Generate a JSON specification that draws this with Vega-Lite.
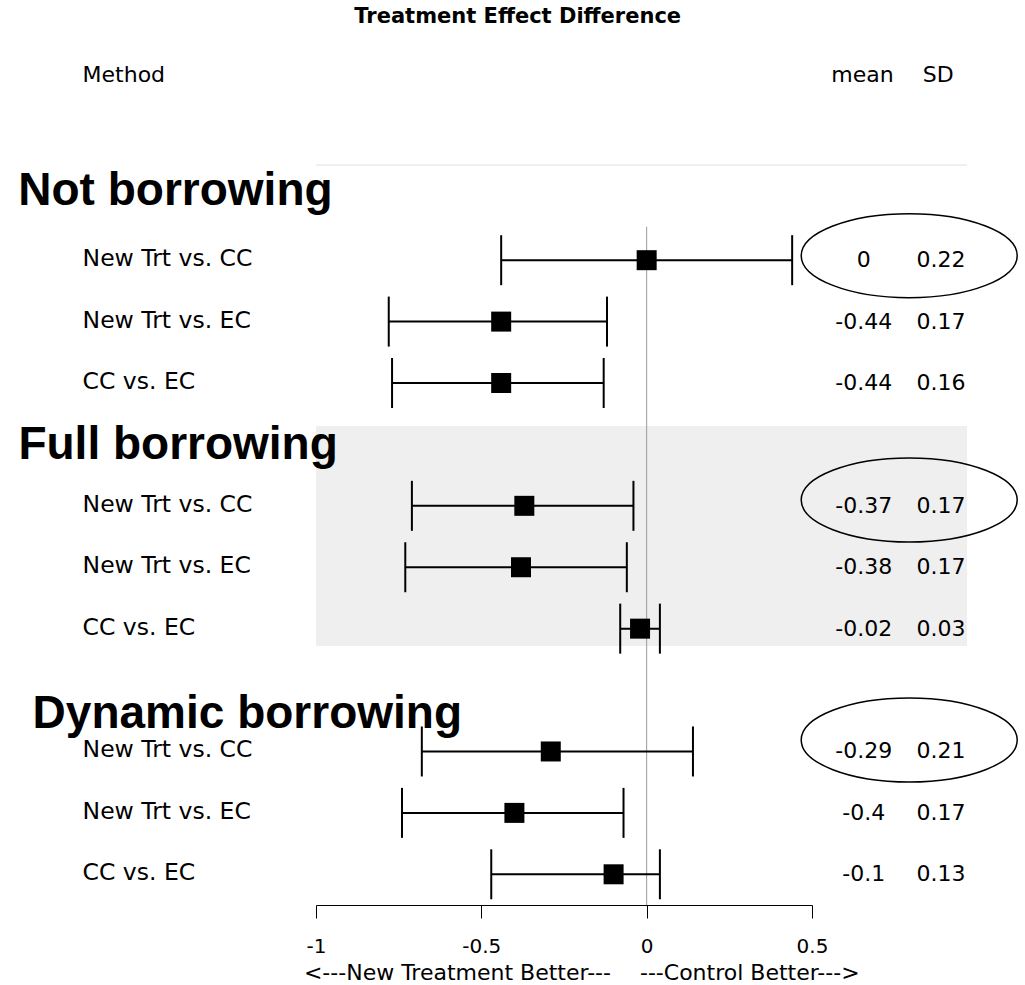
{
"$schema":"https://vega.github.io/schema/vega-lite/v6.json",
"width":496,"height":740,
"autosize":{"type":"none"},
"padding":{"left":316,"right":213,"top":165,"bottom":80},
"background":"white",
"config":{"view":{"stroke":null},"font":"DejaVu Sans","text":{"color":"#000"},
 "axisX":{"grid":false,"domainColor":"#000","domainWidth":1,"tickColor":"#000","tickWidth":1,"tickSize":13,"labelFont":"DejaVu Sans","labelFontSize":20,"labelColor":"#000","labelPadding":18,"labelFlush":false,"labelOverlap":false}},
"datasets":{"rows":[
{"r":0,"label":"New Trt vs. CC","mean":0,"sd":0.22,"lo":-0.44,"hi":0.44},
{"r":1,"label":"New Trt vs. EC","mean":-0.44,"sd":0.17,"lo":-0.78,"hi":-0.12},
{"r":2,"label":"CC vs. EC","mean":-0.44,"sd":0.16,"lo":-0.77,"hi":-0.13},
{"r":4,"label":"New Trt vs. CC","mean":-0.37,"sd":0.17,"lo":-0.71,"hi":-0.04},
{"r":5,"label":"New Trt vs. EC","mean":-0.38,"sd":0.17,"lo":-0.73,"hi":-0.06},
{"r":6,"label":"CC vs. EC","mean":-0.02,"sd":0.03,"lo":-0.08,"hi":0.04},
{"r":8,"label":"New Trt vs. CC","mean":-0.29,"sd":0.21,"lo":-0.68,"hi":0.14},
{"r":9,"label":"New Trt vs. EC","mean":-0.4,"sd":0.17,"lo":-0.74,"hi":-0.07},
{"r":10,"label":"CC vs. EC","mean":-0.1,"sd":0.13,"lo":-0.47,"hi":0.04}
]},
"layer":[
{"data":{"values":[{}]},"mark":{"type":"rect","color":"#efefef"},
 "encoding":{"x":{"datum":-1,"type":"quantitative","scale":{"domain":[-1,0.5],"nice":false,"zero":false},"axis":{"values":[-1,-0.5,0,0.5],"title":null,"labelExpr":"toString(datum.value)"}},
  "x2":{"datum":0.969},
  "y":{"datum":2.7,"type":"quantitative","scale":{"domain":[-1.55,10.5],"nice":false,"zero":false,"reverse":true},"axis":null},
  "y2":{"datum":6.283}}},
{"data":{"values":[{}]},"mark":{"type":"rule","color":"#efefef","strokeWidth":2},
 "encoding":{"x":{"datum":-1,"type":"quantitative","axis":{"values":[-1,-0.5,0,0.5],"title":null,"labelExpr":"toString(datum.value)"}},"x2":{"datum":0.969},
  "y":{"datum":-1.55,"type":"quantitative","axis":null}}},
{"data":{"values":[{}]},"mark":{"type":"rule","color":"#9a9a9a","strokeWidth":1},
 "encoding":{"x":{"datum":0,"type":"quantitative","axis":{"values":[-1,-0.5,0,0.5],"title":null,"labelExpr":"toString(datum.value)"}},
  "y":{"datum":-0.545,"type":"quantitative","axis":null},"y2":{"datum":10.5}}},
{"data":{"name":"rows"},"mark":{"type":"rule","color":"#000","strokeWidth":2},
 "encoding":{"x":{"field":"lo","type":"quantitative","scale":{"domain":[-1,0.5],"nice":false,"zero":false},"axis":{"values":[-1,-0.5,0,0.5],"title":null,"labelExpr":"toString(datum.value)"}},
  "x2":{"field":"hi"},
  "y":{"field":"r","type":"quantitative","scale":{"domain":[-1.55,10.5],"nice":false,"zero":false,"reverse":true},"axis":null}}},
{"data":{"name":"rows"},"mark":{"type":"tick","orient":"vertical","size":50,"thickness":2,"color":"#000","opacity":1},
 "encoding":{"x":{"field":"lo","type":"quantitative","axis":{"values":[-1,-0.5,0,0.5],"title":null,"labelExpr":"toString(datum.value)"}},"y":{"field":"r","type":"quantitative","axis":null}}},
{"data":{"name":"rows"},"mark":{"type":"tick","orient":"vertical","size":50,"thickness":2,"color":"#000","opacity":1},
 "encoding":{"x":{"field":"hi","type":"quantitative","axis":{"values":[-1,-0.5,0,0.5],"title":null,"labelExpr":"toString(datum.value)"}},"y":{"field":"r","type":"quantitative","axis":null}}},
{"data":{"name":"rows"},"mark":{"type":"point","shape":"square","size":400,"filled":true,"color":"#000","opacity":1},
 "encoding":{"x":{"field":"mean","type":"quantitative","axis":{"values":[-1,-0.5,0,0.5],"title":null,"labelExpr":"toString(datum.value)"}},"y":{"field":"r","type":"quantitative","axis":null}}},
{"data":{"values":[{}]},"mark":{"type":"point","shape":"M -1 0 A 1 0.3889 0 1 1 1 0 A 1 0.3889 0 1 1 -1 0 Z","size":46656,"filled":false,"stroke":"#000","strokeWidth":1.5,"opacity":1},
 "encoding":{"x":{"datum":0.794,"type":"quantitative","axis":{"values":[-1,-0.5,0,0.5],"title":null,"labelExpr":"toString(datum.value)"}},"y":{"datum":-0.073,"type":"quantitative","axis":null}}},
{"data":{"values":[{}]},"mark":{"type":"point","shape":"M -1 0 A 1 0.3889 0 1 1 1 0 A 1 0.3889 0 1 1 -1 0 Z","size":46656,"filled":false,"stroke":"#000","strokeWidth":1.5,"opacity":1},
 "encoding":{"x":{"datum":0.794,"type":"quantitative","axis":{"values":[-1,-0.5,0,0.5],"title":null,"labelExpr":"toString(datum.value)"}},"y":{"datum":3.905,"type":"quantitative","axis":null}}},
{"data":{"values":[{}]},"mark":{"type":"point","shape":"M -1 0 A 1 0.3889 0 1 1 1 0 A 1 0.3889 0 1 1 -1 0 Z","size":46656,"filled":false,"stroke":"#000","strokeWidth":1.5,"opacity":1},
 "encoding":{"x":{"datum":0.794,"type":"quantitative","axis":{"values":[-1,-0.5,0,0.5],"title":null,"labelExpr":"toString(datum.value)"}},"y":{"datum":7.813,"type":"quantitative","axis":null}}},
{"data":{"name":"rows"},"mark":{"type":"text","align":"left","baseline":"alphabetic","dy":6,"fontSize":23.5},
 "encoding":{"x":{"datum":-1.706,"type":"quantitative","axis":{"values":[-1,-0.5,0,0.5],"title":null,"labelExpr":"toString(datum.value)"}},"y":{"field":"r","type":"quantitative","axis":null},"text":{"field":"label","type":"nominal"}}},
{"data":{"name":"rows"},"mark":{"type":"text","align":"center","baseline":"alphabetic","dy":7,"fontSize":22},
 "encoding":{"x":{"datum":0.6563,"type":"quantitative","axis":{"values":[-1,-0.5,0,0.5],"title":null,"labelExpr":"toString(datum.value)"}},"y":{"field":"r","type":"quantitative","axis":null},"text":{"field":"mean","type":"nominal"}}},
{"data":{"name":"rows"},"mark":{"type":"text","align":"center","baseline":"alphabetic","dy":7,"fontSize":22},
 "encoding":{"x":{"datum":0.89,"type":"quantitative","axis":{"values":[-1,-0.5,0,0.5],"title":null,"labelExpr":"toString(datum.value)"}},"y":{"field":"r","type":"quantitative","axis":null},"text":{"field":"sd","type":"nominal"}}},
{"data":{"values":[{}]},"mark":{"type":"text","text":"Treatment Effect Difference","align":"center","baseline":"alphabetic","fontSize":21,"fontWeight":"bold"},
 "encoding":{"x":{"datum":-0.39,"type":"quantitative","axis":{"values":[-1,-0.5,0,0.5],"title":null,"labelExpr":"toString(datum.value)"}},"y":{"datum":-3.857,"type":"quantitative","axis":null}}},
{"data":{"values":[{}]},"mark":{"type":"text","text":"Method","align":"left","baseline":"alphabetic","fontSize":22},
 "encoding":{"x":{"datum":-1.706,"type":"quantitative","axis":{"values":[-1,-0.5,0,0.5],"title":null,"labelExpr":"toString(datum.value)"}},"y":{"datum":-2.906,"type":"quantitative","axis":null}}},
{"data":{"values":[{}]},"mark":{"type":"text","text":"mean","align":"center","baseline":"alphabetic","fontSize":22},
 "encoding":{"x":{"datum":0.6527,"type":"quantitative","axis":{"values":[-1,-0.5,0,0.5],"title":null,"labelExpr":"toString(datum.value)"}},"y":{"datum":-2.906,"type":"quantitative","axis":null}}},
{"data":{"values":[{}]},"mark":{"type":"text","text":"SD","align":"center","baseline":"alphabetic","fontSize":22},
 "encoding":{"x":{"datum":0.882,"type":"quantitative","axis":{"values":[-1,-0.5,0,0.5],"title":null,"labelExpr":"toString(datum.value)"}},"y":{"datum":-2.906,"type":"quantitative","axis":null}}},
{"data":{"values":[{}]},"mark":{"type":"text","text":"Not borrowing","align":"left","baseline":"alphabetic","font":"Liberation Sans","fontSize":46,"fontWeight":"bold"},
 "encoding":{"x":{"datum":-1.9003,"type":"quantitative","axis":{"values":[-1,-0.5,0,0.5],"title":null,"labelExpr":"toString(datum.value)"}},"y":{"datum":-0.899,"type":"quantitative","axis":null}}},
{"data":{"values":[{}]},"mark":{"type":"text","text":"Full borrowing","align":"left","baseline":"alphabetic","font":"Liberation Sans","fontSize":46,"fontWeight":"bold"},
 "encoding":{"x":{"datum":-1.9,"type":"quantitative","axis":{"values":[-1,-0.5,0,0.5],"title":null,"labelExpr":"toString(datum.value)"}},"y":{"datum":3.237,"type":"quantitative","axis":null}}},
{"data":{"values":[{}]},"mark":{"type":"text","text":"Dynamic borrowing","align":"left","baseline":"alphabetic","font":"Liberation Sans","fontSize":46,"fontWeight":"bold"},
 "encoding":{"x":{"datum":-1.857,"type":"quantitative","axis":{"values":[-1,-0.5,0,0.5],"title":null,"labelExpr":"toString(datum.value)"}},"y":{"datum":7.618,"type":"quantitative","axis":null}}},
{"data":{"values":[{}]},"mark":{"type":"text","text":"<---New Treatment Better---","align":"right","baseline":"alphabetic","fontSize":22},
 "encoding":{"x":{"datum":-0.1079,"type":"quantitative","axis":{"values":[-1,-0.5,0,0.5],"title":null,"labelExpr":"toString(datum.value)"}},"y":{"datum":11.721,"type":"quantitative","axis":null}}},
{"data":{"values":[{}]},"mark":{"type":"text","text":"---Control Better--->","align":"left","baseline":"alphabetic","fontSize":22},
 "encoding":{"x":{"datum":-0.0202,"type":"quantitative","axis":{"values":[-1,-0.5,0,0.5],"title":null,"labelExpr":"toString(datum.value)"}},"y":{"datum":11.721,"type":"quantitative","axis":null}}}
]
}
